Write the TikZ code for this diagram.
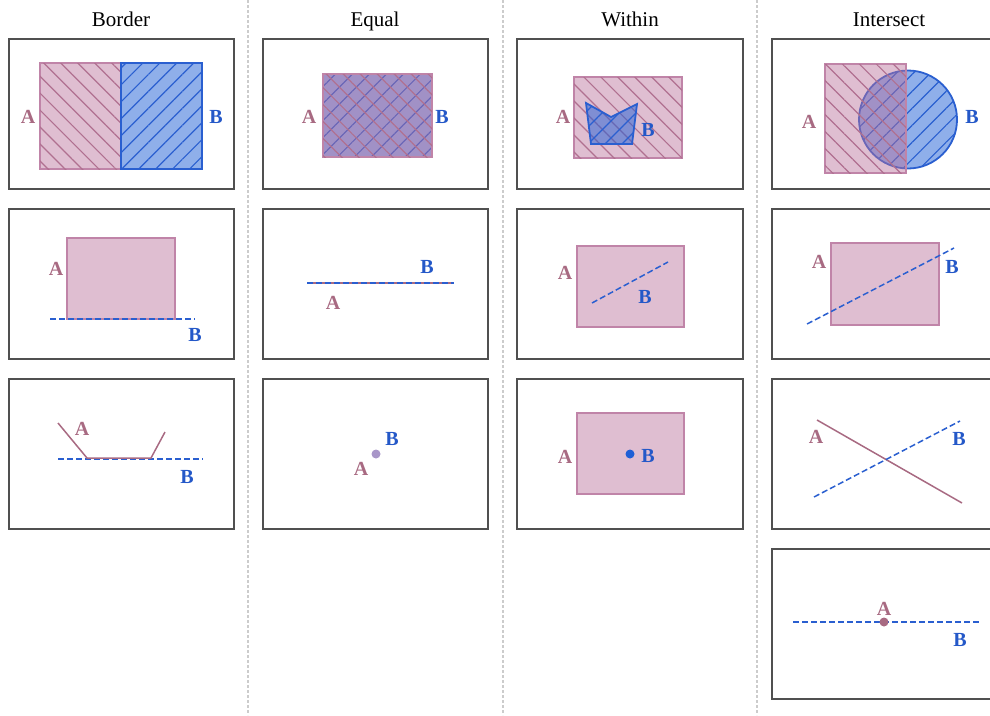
\documentclass[tikz,border=0pt]{standalone}
\usepackage{fontspec}
\setmainfont{Liberation Serif}
\usepackage{tikz}
\usetikzlibrary{patterns.meta}
\definecolor{amauve}{HTML}{B96F99}
\definecolor{aline}{HTML}{C084A8}
\definecolor{ahatch}{HTML}{B07090}
\definecolor{alabel}{HTML}{A86A82}
\definecolor{bblue}{HTML}{1F5FD6}
\definecolor{bline}{HTML}{2A5FD0}
\definecolor{blabel}{HTML}{2458C8}
\definecolor{framegray}{HTML}{505050}
\definecolor{dotpurple}{HTML}{A896C8}

\begin{document}
\begin{tikzpicture}[x=1pt, y=-1pt,
  panel/.style={draw=framegray, line width=1.2pt},
  colsep/.style={draw=black!20, line width=1.5pt, dash pattern=on 3pt off 2pt},
  header/.style={font=\fontsize{21}{24}\selectfont, inner sep=0pt, anchor=base},
  labA/.style={text=alabel, font=\fontsize{20}{22}\selectfont\bfseries, inner sep=0pt},
  labB/.style={labA, text=blabel},
  regA/.style={draw=aline, line width=1.8pt, fill=amauve, fill opacity=0.45,
    postaction={pattern={Lines[angle=-45, distance=12pt, line width=1.2pt]}, pattern color=ahatch, fill opacity=1}},
  regB/.style={draw=bline, line width=1.8pt, fill=bblue, fill opacity=0.5,
    postaction={pattern={Lines[angle=45, distance=12pt, line width=1.2pt]}, pattern color=bline, fill opacity=1}},
  plainA/.style={draw=aline, line width=1.8pt, fill=amauve, fill opacity=0.45},
  lineA/.style={draw=alabel, line width=1.5pt},
  lineB/.style={draw=bline, line width=1.5pt, dash pattern=on 6pt off 3pt},
]
\useasboundingbox (0,0) rectangle (990,715);
\clip (0,0) rectangle (990,715);

% column separators
\draw[colsep] (248,0) -- (248,715);
\draw[colsep] (503,0) -- (503,715);
\draw[colsep] (757,0) -- (757,715);

% headers
\node[header] (hborder) at (121,26) {Border};
\node[header] (hequal) at (375,26) {Equal};
\node[header] (hwithin) at (630,26) {Within};
\node[header] (hinter) at (889,26) {Intersect};

% panel frames
\draw[panel] (9,39) rectangle (234,189);
\draw[panel] (9,209) rectangle (234,359);
\draw[panel] (9,379) rectangle (234,529);
\draw[panel] (263,39) rectangle (488,189);
\draw[panel] (263,209) rectangle (488,359);
\draw[panel] (263,379) rectangle (488,529);
\draw[panel] (517,39) rectangle (743,189);
\draw[panel] (517,209) rectangle (743,359);
\draw[panel] (517,379) rectangle (743,529);
\draw[panel] (772,39) rectangle (997,189);
\draw[panel] (772,209) rectangle (997,359);
\draw[panel] (772,379) rectangle (997,529);
\draw[panel] (772,549) rectangle (997,699);

% Border: polygon / polygon
\draw[regA] (40,63) rectangle (121,169);
\draw[regB] (121,63) rectangle (202,169);
\node[labA] (ba1) at (28,117) {A};
\node[labB] (bb1) at (216,117) {B};

% Border: polygon / line
\draw[plainA] (67,238) rectangle (175,319);
\draw[lineB] (50,319) -- (195,319);
\node[labA] (ba2) at (56,269) {A};
\node[labB] (bb2) at (195,335) {B};

% Border: line / line
\draw[lineB] (58,459) -- (203,459);
\draw[lineA] (58,423) -- (87,458) -- (151,458) -- (165,432);
\node[labA] (ba3) at (82,429) {A};
\node[labB] (bb3) at (187,477) {B};

% Equal: polygon / polygon
\draw[regB] (323,74) rectangle (432,157);
\draw[regA] (323,74) rectangle (432,157);
\node[labA] (ea1) at (309,117) {A};
\node[labB] (eb1) at (442,117) {B};

% Equal: line / line
\draw[lineA] (307,283) -- (454,283);
\draw[lineB] (307,283) -- (454,283);
\node[labA] (ea2) at (333,303) {A};
\node[labB] (eb2) at (427,267) {B};

% Equal: point / point
\fill[dotpurple] (376,454) circle[radius=4.5];
\node[labA] (ea3) at (361,469) {A};
\node[labB] (eb3) at (392,439) {B};

% Within: polygon / polygon
\draw[regA] (574,77) rectangle (682,158);
\draw[regB] (586,103) -- (611,117) -- (637,104) -- (632,144) -- (591,144) -- cycle;
\node[labA] (wa1) at (563,117) {A};
\node[labB] (wb1) at (648,130) {B};

% Within: polygon / line
\draw[plainA] (577,246) rectangle (684,327);
\draw[lineB] (592,303) -- (668,262);
\node[labA] (wa2) at (565,273) {A};
\node[labB] (wb2) at (645,297) {B};

% Within: polygon / point
\draw[plainA] (577,413) rectangle (684,494);
\fill[bblue] (630,454) circle[radius=4.5];
\node[labA] (wa3) at (565,457) {A};
\node[labB] (wb3) at (648,456) {B};

% Intersect: polygon / polygon
\draw[regB] (908,119.5) circle[radius=49];
\draw[regA] (825,64) rectangle (906,173);
\node[labA] (ia1) at (809,122) {A};
\node[labB] (ib1) at (972,117) {B};

% Intersect: polygon / line
\draw[plainA] (831,243) rectangle (939,325);
\draw[lineB] (807,324) -- (954,248);
\node[labA] (ia2) at (819,262) {A};
\node[labB] (ib2) at (952,267) {B};

% Intersect: line / line
\draw[lineA] (817,420) -- (962,503);
\draw[lineB] (814,497) -- (960,421);
\node[labA] (ia3) at (816,437) {A};
\node[labB] (ib3) at (959,439) {B};

% Intersect: point / line
\draw[lineB] (793,622) -- (980,622);
\fill[alabel] (884,622) circle[radius=4.5];
\node[labA] (ia4) at (884,609) {A};
\node[labB] (ib4) at (960,640) {B};
\end{tikzpicture}
\end{document}
